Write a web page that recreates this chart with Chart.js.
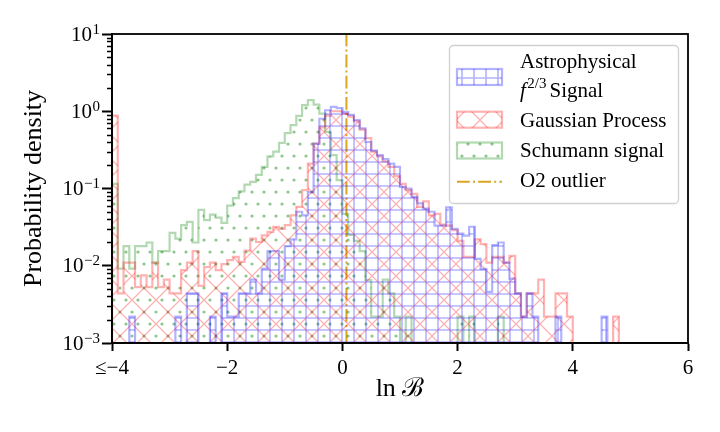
<!DOCTYPE html>
<html>
<head>
<meta charset="utf-8">
<script src="https://cdn.jsdelivr.net/npm/chart.js@4.4.1/dist/chart.umd.min.js"></script>
<style>
  html, body { margin: 0; padding: 0; background: #ffffff; }
  #wrap { width: 720px; height: 432px; }
</style>
</head>
<body>
<div id="wrap"><canvas id="bayesChart" width="720" height="432"></canvas></div>
<script>
// histogram bins: left edge of first bin and bin width (ln B)
const binStart = -4;
const binWidth = 0.1;

// probability density per bin (0 = empty bin)
const astroSignal = [
  0, 0, 0, 0.0022, 0, 0, 0, 0, 0, 0,
  0, 0.0022, 0, 0.0044, 0.0044, 0, 0, 0.0022, 0, 0.0044,
  0.0022, 0.0022, 0.0044, 0.0044, 0.0066, 0.0044, 0.0092, 0.0155, 0.0155, 0.0066,
  0.018, 0.022, 0.05, 0.045, 0.09, 0.38, 0.8, 1.03, 1.14, 1.1,
  0.98, 0.9, 0.77, 0.6, 0.4, 0.31, 0.27, 0.24, 0.21, 0.19,
  0.105, 0.1, 0.078, 0.064, 0.055, 0.05, 0.033, 0.033, 0.057, 0.03,
  0.026, 0.0245, 0.032, 0.0123, 0.0091, 0.0046, 0.0185, 0.02, 0.011, 0.0068,
  0.0044, 0.0022, 0.0044, 0.0022, 0, 0, 0, 0.0022, 0, 0,
  0, 0, 0, 0, 0, 0.0022, 0, 0, 0, 0,
  0, 0, 0, 0, 0, 0, 0, 0, 0, 0
];

const gaussianProcess = [
  0.88, 0.0044, 0.011, 0.011, 0.0053, 0.0075, 0.0053, 0.011, 0.0053, 0.0066,
  0.0044, 0.0044, 0.0088, 0.011, 0.0155, 0.0055, 0.0096, 0.011, 0.0088, 0.0105,
  0.0118, 0.013, 0.0112, 0.0157, 0.0225, 0.0203, 0.0248, 0.0274, 0.0318, 0.03,
  0.0335, 0.045, 0.058, 0.095, 0.21, 0.38, 0.62, 0.88, 1.0, 1.0,
  0.93, 0.85, 0.74, 0.58, 0.45, 0.3, 0.26, 0.225, 0.19, 0.145,
  0.115, 0.095, 0.085, 0.058, 0.068, 0.045, 0.047, 0.034, 0.033, 0.029,
  0.021, 0.013, 0.013, 0.022, 0.019, 0.011, 0.013, 0.013, 0.011, 0.0134,
  0.0044, 0.0022, 0.0044, 0.0044, 0.0066, 0.0022, 0.0022, 0.0044, 0.0044, 0.0022,
  0, 0, 0, 0, 0, 0, 0, 0.0022, 0, 0,
  0, 0, 0, 0, 0, 0, 0, 0, 0, 0
];

const schumannSignal = [
  0.115, 0.0092, 0.018, 0.0092, 0.018, 0.018, 0.02, 0.011, 0.0155, 0.0155,
  0.0266, 0.0225, 0.0335, 0.037, 0.02, 0.053, 0.039, 0.046, 0.042, 0.036,
  0.06, 0.075, 0.092, 0.112, 0.122, 0.15, 0.19, 0.26, 0.3, 0.39,
  0.52, 0.66, 0.87, 1.2, 1.39, 1.22, 0.93, 0.54, 0.27, 0.128,
  0.047, 0.025, 0.021, 0.0155, 0.0065, 0.0022, 0.0022, 0.0066, 0.0044, 0.0022,
  0, 0.0022, 0, 0, 0, 0, 0, 0, 0, 0,
  0.0022, 0, 0.0022, 0, 0, 0, 0, 0.0022, 0, 0,
  0, 0, 0, 0, 0, 0, 0, 0, 0, 0,
  0, 0, 0, 0, 0, 0, 0, 0, 0, 0,
  0, 0, 0, 0, 0, 0, 0, 0, 0, 0
];

const o2Outlier = 0.07;

const xTickValues = [-4, -2, 0, 2, 4, 6];
const xTickLabels = ["\u2264\u22124", "\u22122", "0", "2", "4", "6"];
const yTickValues = [1e-3, 1e-2, 1e-1, 1, 10];
const yTickExponents = ["\u22123", "\u22122", "\u22121", "0", "1"];

const seriesNames = ["Astrophysical", "Gaussian Process", "Schumann signal", "O2 outlier"];

(function () {
  const SERIF = '"Liberation Serif", "DejaVu Serif", serif';
  const BLUE = "rgba(0, 0, 255, 0.3)";
  const RED = "rgba(255, 0, 0, 0.3)";
  const GREEN = "rgba(0, 128, 0, 0.3)";
  const GOLD = "#daa520";
  const O2_DASH = [12.8, 3.2, 2, 3.2];
  const FLOOR = 1e-6;

  // one point per bin left edge; 'before' stepping holds each value until the next edge
  function stepPoints(values) {
    const pts = [{ x: binStart, y: FLOOR }];
    values.forEach(function (v, i) {
      pts.push({ x: binStart + i * binWidth, y: v > 0 ? v : FLOOR });
    });
    pts.push({ x: binStart + values.length * binWidth, y: FLOOR });
    return pts;
  }

  function makePattern(kind, color) {
    const tile = document.createElement("canvas");
    const c = tile.getContext("2d");
    if (kind === "grid") {
      tile.width = 12;
      tile.height = 12;
      c.strokeStyle = color;
      c.lineWidth = 1.6;
      c.beginPath();
      c.moveTo(6, 0); c.lineTo(6, 12);
      c.moveTo(0, 6); c.lineTo(12, 6);
      c.stroke();
    } else if (kind === "cross") {
      tile.width = 24;
      tile.height = 24;
      c.strokeStyle = color;
      c.lineWidth = 1.3;
      c.beginPath();
      for (let k = -1; k <= 1; k++) {
        c.moveTo(-2, -2 + 24 * k); c.lineTo(26, 26 + 24 * k);
        c.moveTo(-2, 26 + 24 * k); c.lineTo(26, -2 + 24 * k);
      }
      c.stroke();
    } else {
      tile.width = 12;
      tile.height = 24;
      c.fillStyle = "rgba(0, 128, 0, 0.45)";
      const dots = [[0, 0], [12, 0], [0, 24], [12, 24], [6, 12]];
      dots.forEach(function (d) {
        c.beginPath();
        c.arc(d[0], d[1], 1.6, 0, Math.PI * 2);
        c.fill();
      });
    }
    return c.createPattern(tile, "repeat");
  }

  const canvas = document.getElementById("bayesChart");
  const ctx = canvas.getContext("2d");

  const patterns = {
    astro: makePattern("grid", BLUE),
    gp: makePattern("cross", RED),
    schumann: makePattern("dots", GREEN),
  };

  function histDataset(values, color, pattern) {
    return {
      data: stepPoints(values),
      stepped: "before",
      borderColor: color,
      backgroundColor: pattern,
      borderWidth: 2.2,
      pointRadius: 0,
      fill: "start",
      clip: 0,
    };
  }

  const axisBox = {
    id: "axisBox",
    afterDatasetsDraw(chart) {
      const a = chart.chartArea;
      const y = chart.scales.y;
      const c = chart.ctx;
      c.save();
      c.strokeStyle = "#000";
      c.lineWidth = 1.8;
      c.strokeRect(a.left, a.top, a.right - a.left, a.bottom - a.top);

      // minor log ticks
      c.lineWidth = 1.3;
      c.beginPath();
      for (let e = -3; e < 1; e++) {
        for (let m = 2; m <= 9; m++) {
          const py = Math.round(y.getPixelForValue(m * Math.pow(10, e))) + 0.5;
          c.moveTo(a.left - 5, py);
          c.lineTo(a.left, py);
        }
      }
      c.stroke();

      // y tick labels 10^k
      c.fillStyle = "#000";
      c.textBaseline = "alphabetic";
      yTickValues.forEach(function (v, i) {
        const py = y.getPixelForValue(v);
        const right = 100;
        c.font = "15px " + SERIF;
        const ew = c.measureText(yTickExponents[i]).width;
        c.textAlign = "left";
        c.fillText(yTickExponents[i], right - ew, py - 0.5);
        c.font = "21px " + SERIF;
        c.textAlign = "right";
        c.fillText("10", right - ew - 0.5, py + 6.5);
      });
      c.restore();
    },
  };

  const boxLegend = {
    id: "boxLegend",
    afterDraw(chart) {
      const c = chart.ctx;
      c.save();
      const bx = 449.5, by = 45.5, bw = 229, bh = 158, r = 4;
      c.beginPath();
      c.moveTo(bx + r, by);
      c.arcTo(bx + bw, by, bx + bw, by + bh, r);
      c.arcTo(bx + bw, by + bh, bx, by + bh, r);
      c.arcTo(bx, by + bh, bx, by, r);
      c.arcTo(bx, by, bx + bw, by, r);
      c.closePath();
      c.fillStyle = "rgba(255,255,255,0.8)";
      c.fill();
      c.strokeStyle = "#d0d0d0";
      c.lineWidth = 1.3;
      c.stroke();

      const px = 457, pw = 45, ph = 16;
      const patches = [
        { y: 77, color: BLUE, pat: patterns.astro },
        { y: 119.7, color: RED, pat: patterns.gp },
        { y: 150.5, color: GREEN, pat: patterns.schumann },
      ];
      patches.forEach(function (p) {
        c.fillStyle = p.pat;
        c.fillRect(px, p.y - ph / 2, pw, ph);
        c.strokeStyle = p.color;
        c.lineWidth = 2.2;
        c.strokeRect(px, p.y - ph / 2, pw, ph);
      });
      c.strokeStyle = GOLD;
      c.lineWidth = 2;
      c.setLineDash(O2_DASH);
      c.beginPath();
      c.moveTo(px, 181.7);
      c.lineTo(px + pw, 181.7);
      c.stroke();
      c.setLineDash([]);

      const tx = 520;
      c.fillStyle = "#000";
      c.textAlign = "left";
      c.textBaseline = "alphabetic";
      c.font = "21px " + SERIF;
      c.fillText(seriesNames[0], tx, 68.3);
      c.font = "italic 21px " + SERIF;
      c.fillText("f", tx, 96.7);
      let cx = tx + c.measureText("f").width + 1.5;
      c.font = "15px " + SERIF;
      c.fillText("2/3", cx, 87.5);
      cx += c.measureText("2/3").width + 3;
      c.font = "21px " + SERIF;
      c.fillText("Signal", cx, 96.7);
      c.fillText(seriesNames[1], tx, 126.7);
      c.fillText(seriesNames[2], tx, 157.3);
      c.fillText(seriesNames[3], tx, 186.7);
      c.restore();
    },
  };

  new Chart(ctx, {
    type: "line",
    data: {
      datasets: [
        histDataset(astroSignal, BLUE, patterns.astro),
        histDataset(gaussianProcess, RED, patterns.gp),
        histDataset(schumannSignal, GREEN, patterns.schumann),
        {
          data: [{ x: o2Outlier, y: 1e-3 }, { x: o2Outlier, y: 10 }],
          borderColor: GOLD,
          borderWidth: 2,
          borderDash: O2_DASH,
          pointRadius: 0,
          fill: false,
          clip: 0,
        },
      ],
    },
    options: {
      responsive: false,
      animation: false,
      devicePixelRatio: 1,
      layout: {
        padding: { left: 0, right: 32, top: 34, bottom: 0 },
      },
      plugins: {
        legend: { display: false },
        tooltip: { enabled: false },
      },
      scales: {
        x: {
          type: "linear",
          min: -4,
          max: 6,
          afterFit: function (s) { s.height = 89; },
          afterBuildTicks: function (s) {
            s.ticks = xTickValues.map(function (v) { return { value: v }; });
          },
          ticks: {
            autoSkip: false,
            maxRotation: 0,
            padding: 5,
            color: "#000",
            font: { family: SERIF, size: 21 },
            callback: function (v) { return xTickLabels[xTickValues.indexOf(v)]; },
          },
          grid: {
            drawOnChartArea: false,
            drawTicks: true,
            tickLength: 8,
            tickWidth: 2,
            tickColor: "#000",
          },
          border: { display: true, color: "#000", width: 1.8 },
          title: {
            display: true,
            text: "ln \u212C",
            color: "#000",
            font: { family: SERIF, size: 26 },
            padding: { top: 0, bottom: 27 },
          },
        },
        y: {
          type: "logarithmic",
          min: 1e-3,
          max: 10,
          afterFit: function (s) { s.width = 112; },
          afterBuildTicks: function (s) {
            s.ticks = yTickValues.map(function (v) { return { value: v }; });
          },
          ticks: { display: false },
          grid: {
            drawOnChartArea: false,
            drawTicks: true,
            tickLength: 10,
            tickWidth: 2,
            tickColor: "#000",
          },
          border: { display: true, color: "#000", width: 1.8 },
          title: {
            display: true,
            text: "Probability density",
            color: "#000",
            font: { family: SERIF, size: 26 },
            padding: { top: 19, bottom: 0 },
          },
        },
      },
    },
    plugins: [axisBox, boxLegend],
  });
})();
</script>
</body>
</html>
